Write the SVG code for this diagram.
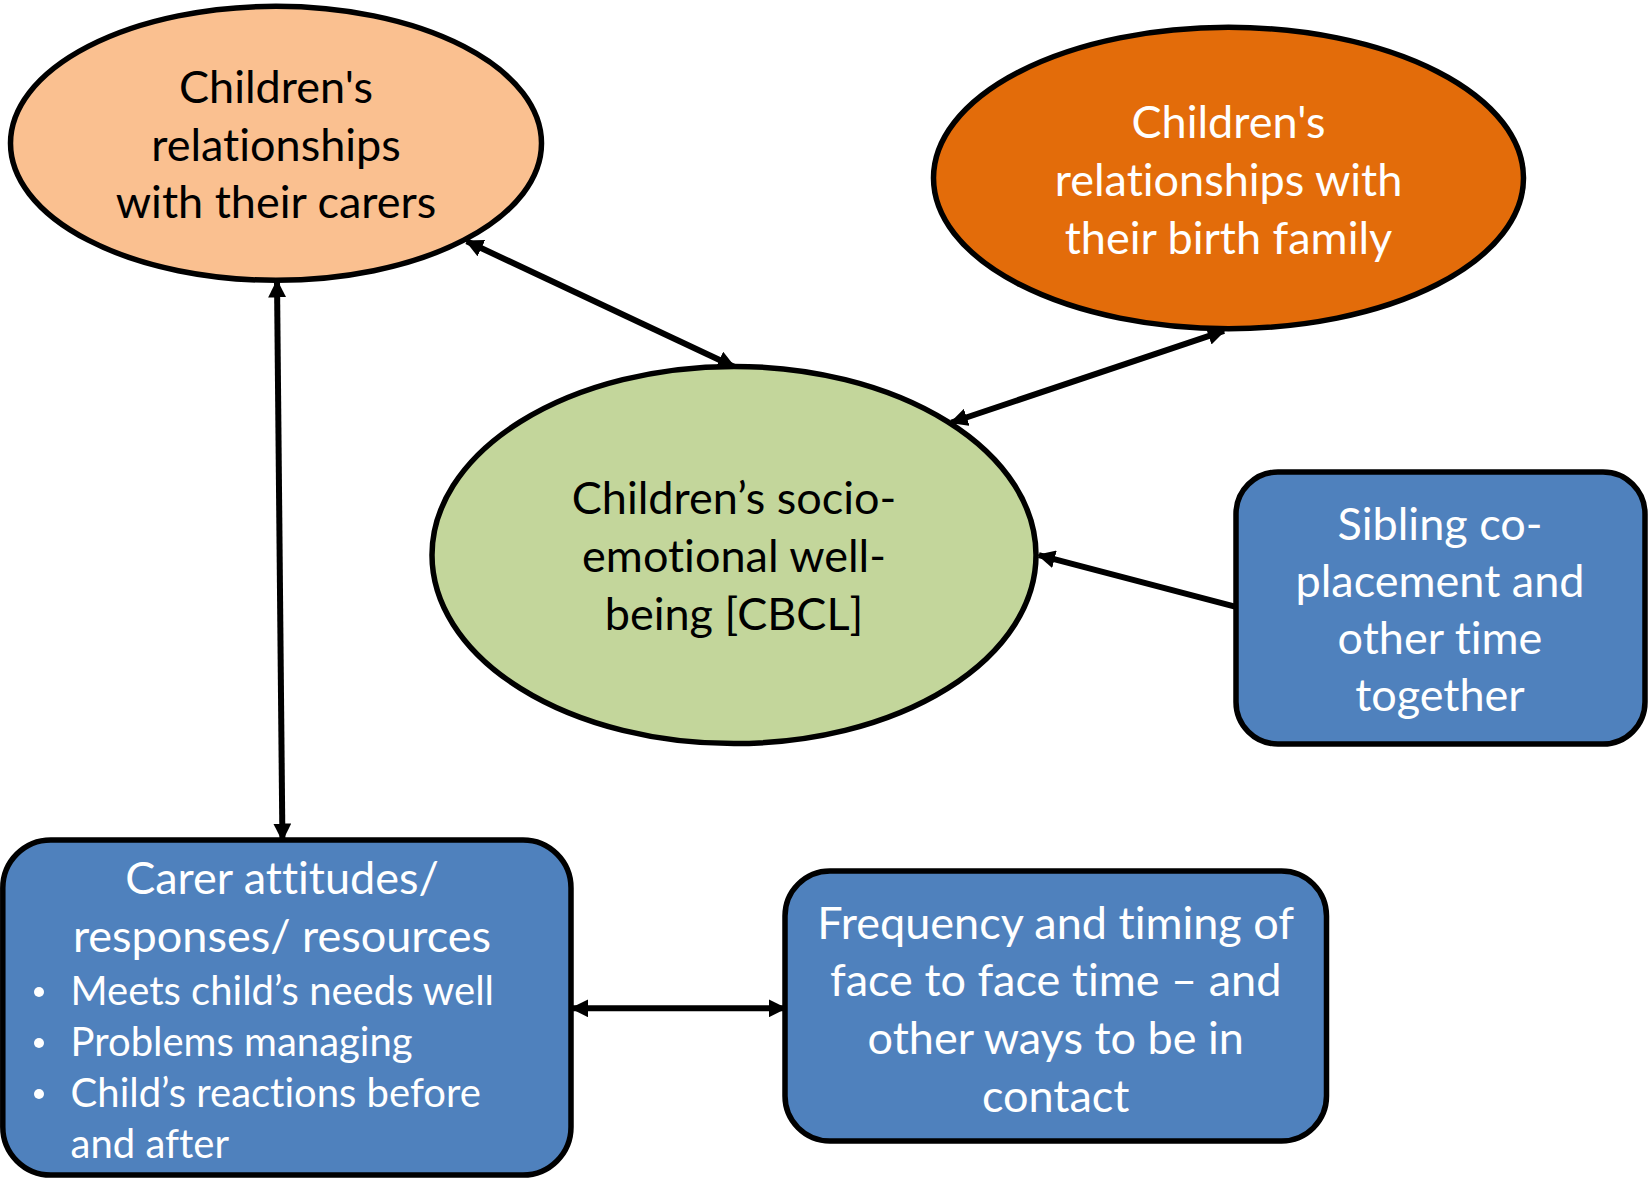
<svg xmlns="http://www.w3.org/2000/svg" width="1652" height="1182" viewBox="0 0 1652 1182">
<style>
.t{font-family:Lato,"Open Sans","Liberation Sans",sans-serif;font-size:45px;text-anchor:middle;font-variant-ligatures:none;font-feature-settings:"liga" 0,"clig" 0,"calt" 0,"dlig" 0}
.s{font-size:40px;text-anchor:start}
.b{fill:#000}
.w{fill:#fff}
.shape{stroke:#000;stroke-width:5.5}
.con{stroke:#000;stroke-width:6;fill:none}
</style>
<defs>
<marker id="ah" viewBox="0 0 10 10" refX="9" refY="5" markerWidth="3" markerHeight="3" orient="auto-start-reverse" markerUnits="strokeWidth">
<path d="M0,0 L10,5 L0,10 z" fill="#000"/>
</marker>
</defs>
<rect width="1652" height="1182" fill="#fff"/>
<g id="connectors">
<line class="con" x1="466.7" y1="241.3" x2="734" y2="366.7" marker-start="url(#ah)" marker-end="url(#ah)"/>
<line class="con" x1="1224" y1="330.8" x2="951.4" y2="422.5" marker-start="url(#ah)" marker-end="url(#ah)"/>
<line class="con" x1="1236" y1="606.9" x2="1038.8" y2="555.2" marker-end="url(#ah)"/>
<line class="con" x1="277" y1="281.3" x2="282.4" y2="839.7" marker-start="url(#ah)" marker-end="url(#ah)"/>
<line class="con" x1="572" y1="1008.3" x2="785" y2="1008.3" marker-start="url(#ah)" marker-end="url(#ah)"/>
</g>
<g id="carers">
<ellipse class="shape" cx="276" cy="143.3" rx="265.5" ry="137" fill="#FAC090"/>
<text class="t b" x="276" y="103">Children's</text>
<text class="t b" x="276" y="161">relationships</text>
<text class="t b" x="276" y="218">with their carers</text>
</g>
<g id="birthfamily">
<ellipse class="shape" cx="1228.5" cy="178" rx="295" ry="150.7" fill="#E36C0A"/>
<text class="t w" x="1228.5" y="138">Children's</text>
<text class="t w" x="1228.5" y="196">relationships with</text>
<text class="t w" x="1228.5" y="254">their birth family</text>
</g>
<g id="wellbeing">
<ellipse class="shape" cx="734" cy="555" rx="302" ry="188.6" fill="#C3D69B"/>
<text class="t b" x="734" y="514">Children’s socio-</text>
<text class="t b" x="734" y="572">emotional well-</text>
<text class="t b" x="734" y="630">being [CBCL]</text>
</g>
<g id="sibling">
<rect class="shape" x="1236" y="472" width="409" height="272" rx="42" fill="#4F81BD"/>
<text class="t w" x="1440" y="540">Sibling co-</text>
<text class="t w" x="1440" y="597">placement and</text>
<text class="t w" x="1440" y="654">other time</text>
<text class="t w" x="1440" y="711">together</text>
</g>
<g id="carerattitudes">
<rect class="shape" x="2.8" y="840" width="568.2" height="335" rx="48" fill="#4F81BD"/>
<text class="t w" x="282" y="894">Carer attitudes/</text>
<text class="t w" x="282" y="952">responses/ resources</text>
<g class="w">
<circle cx="39" cy="992" r="5"/>
<circle cx="39" cy="1043" r="5"/>
<circle cx="39" cy="1094" r="5"/>
</g>
<text class="t s w" x="70.6" y="1005">Meets child’s needs well</text>
<text class="t s w" x="70.6" y="1056">Problems managing</text>
<text class="t s w" x="70.6" y="1107">Child’s reactions before</text>
<text class="t s w" x="70.6" y="1158">and after</text>
</g>
<g id="frequency">
<rect class="shape" x="785" y="871" width="541.5" height="270" rx="45" fill="#4F81BD"/>
<text class="t w" x="1055.7" y="939">Frequency and timing of</text>
<text class="t w" x="1055.7" y="996">face to face time – and</text>
<text class="t w" x="1055.7" y="1054">other ways to be in</text>
<text class="t w" x="1055.7" y="1112">contact</text>
</g>
</svg>
